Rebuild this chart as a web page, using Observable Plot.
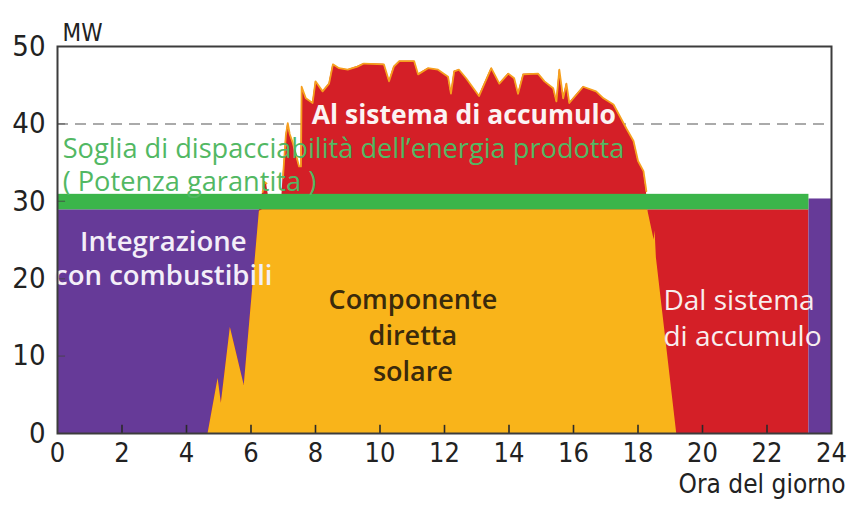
<!DOCTYPE html>
<html><head><meta charset="utf-8">
<script src="https://cdn.jsdelivr.net/npm/d3@7"></script>
<script src="https://cdn.jsdelivr.net/npm/@observablehq/plot@0.6"></script>
<style>
body{margin:0;background:#fff}
#chart svg{display:block}
</style>
</head><body><div id="chart"></div>
<script>
// Solar production profile (MW) by hour of day
const hours = [4.67,4.98,5.08,5.36,5.79,6.26,6.36,6.42,6.48,6.55,6.62,6.95,6.99,7.08,7.14,7.2,7.3,7.49,7.55,7.57,7.7,7.91,8.0,8.22,8.42,8.54,8.73,9.0,9.3,9.5,10.12,10.28,10.43,10.6,11.06,11.18,11.49,11.8,12.11,12.2,12.3,12.45,12.67,13.07,13.45,13.7,13.98,14.16,14.28,14.44,14.9,15.1,15.37,15.47,15.56,15.68,15.78,15.87,16.3,16.7,16.93,17.24,17.64,17.86,18.0,18.17,18.26,18.3,18.5,18.53,18.57,19.2];
const solarMW = [0,7.1,3.9,13.7,6.2,28.7,31.2,32.5,32.3,30.5,30.0,30.0,33.0,38.5,40.1,38.7,37.5,34.5,34.5,44.8,43.3,42.7,45.5,44.2,45.2,47.7,47.2,47.0,47.4,47.8,47.7,45.5,47.4,48.1,48.1,46.4,47.2,47.0,46.1,43.9,46.8,47.0,45.9,43.6,47.2,45.2,46.5,45.9,43.9,46.4,46.5,45.5,44.6,42.9,47.0,43.3,45.2,42.7,44.8,44.2,43.3,42.5,39.4,37.8,35.2,33.9,31.3,28.9,25.0,26.2,22.7,0];

// Other supply sources (hour spans, MW level)
const sourceNames = ["Integrazione con combustibili", "Dal sistema di accumulo", "Integrazione con combustibili"];
const sourceStart = [0, 18.3, 23.3];
const sourceEnd = [6.3, 23.3, 24];
const sourceTop = [28.9, 28.9, 30.3];
const sourceColor = ["#663a98", "#d41f27", "#663a98"];

// Guaranteed power band and dispatchability threshold
const guaranteedLow = 28.9;
const guaranteedHigh = 30.9;
const guaranteedEnd = 23.3;
const thresholdMW = 40;

const xTicks = [0,2,4,6,8,10,12,14,16,18,20,22,24];
const yTicks = [0,10,20,30,40,50];

const RED = "#d41f27", YELLOW = "#f9b41a", GREEN = "#3bb54a";

const solar = hours.map((h, i) => ({h, v: solarMW[i]}));
const sources = sourceNames.map((name, i) => ({name, x1: sourceStart[i], x2: sourceEnd[i], top: sourceTop[i], color: sourceColor[i]}));
const band = [{x1: 0, x2: guaranteedEnd, y1: guaranteedLow, y2: guaranteedHigh}];

const annotations = [
  {t: "Al sistema di accumulo", x: 12.6, y: 41.1, fill: "#fbf3f3", w: 700, s: 26.5, a: "middle", lh: 1},
  {t: "Soglia di dispacciabilità dell’energia prodotta\n( Potenza garantita )", x: 0.16, y: 34.85, fill: "#52b863", w: 400, s: 27.2, a: "start", lh: 1.21},
  {t: "Integrazione\ncon combustibili", x: 3.28, y: 22.75, fill: "#f3eef8", w: 600, s: 27.5, a: "middle", lh: 1.24},
  {t: "Componente\ndiretta\nsolare", x: 11.02, y: 12.9, fill: "#3a2a0c", w: 600, s: 27, a: "middle", lh: 1.33},
  {t: "Dal sistema\ndi accumulo", x: 18.79, y: 15.1, fill: "#f8eeee", w: 500, s: 28, a: "start", lh: 1.26}
];

const axisFont = "'DejaVu Sans Condensed', 'DejaVu Sans', sans-serif";
const labelFont = "'Open Sans', 'DejaVu Sans', sans-serif";

const textMarks = annotations.map(a => Plot.text([a], {
  x: "x", y: "y", text: "t", fill: a.fill, fontWeight: a.w, fontSize: a.s,
  fontFamily: labelFont, textAnchor: a.a, lineHeight: a.lh, lineAnchor: "middle"
}));

const chart = Plot.plot({
  width: 848,
  height: 509,
  marginLeft: 57,
  marginRight: 17,
  marginTop: 46,
  marginBottom: 76,
  x: {domain: [0, 24]},
  y: {domain: [0, 50]},
  color: {type: "identity"},
  style: {fontFamily: axisFont, background: "#fff", overflow: "visible"},
  marks: [
    Plot.rectY(sources, {x1: "x1", x2: "x2", y1: 0, y2: "top", fill: "color"}),
    Plot.ruleY([thresholdMW], {stroke: "#aaaaaa", strokeWidth: 2, strokeDasharray: "11,7"}),
    Plot.areaY(solar, {x: "h", y: "v", fill: RED}),
    Plot.lineY(solar, {x: "h", y: d => d.v >= guaranteedHigh ? d.v : NaN, stroke: "#f6a01e", strokeWidth: 1.8}),
    Plot.areaY(solar, {x: "h", y: d => Math.min(d.v, guaranteedLow), fill: YELLOW}),
    Plot.rect(band, {x1: "x1", x2: "x2", y1: "y1", y2: "y2", fill: GREEN}),
    Plot.ruleX(xTicks.slice(1, -1), {x: d => d, y1: 0, y2: 1.05, stroke: "#2a2a2a", strokeWidth: 1.6}),
    Plot.ruleY(yTicks.slice(1, -1), {y: d => d, x1: 0, x2: 0.25, stroke: "#444", strokeWidth: 1.4, strokeOpacity: 0.6}),
    Plot.axisX(xTicks, {tickSize: 0, tickPadding: 9, fontSize: 27, fill: "#222", label: null, fontFamily: axisFont}),
    Plot.axisY(yTicks, {tickSize: 0, tickPadding: 12, fontSize: 29, fill: "#222", label: null, fontFamily: axisFont}),
    ...textMarks,
    Plot.text(["MW"], {text: d => d, frameAnchor: "top-left", dx: 5, dy: -23, textAnchor: "start", fontSize: 24, fill: "#222", fontFamily: axisFont}),
    Plot.text(["Ora del giorno"], {text: d => d, frameAnchor: "bottom-right", dx: 14, dy: 59, textAnchor: "end", fontSize: 26, fill: "#222", fontFamily: axisFont}),
    Plot.frame({stroke: "#3c3c3c", strokeWidth: 2})
  ]
});
document.getElementById("chart").appendChild(chart);
</script>
</body></html>
